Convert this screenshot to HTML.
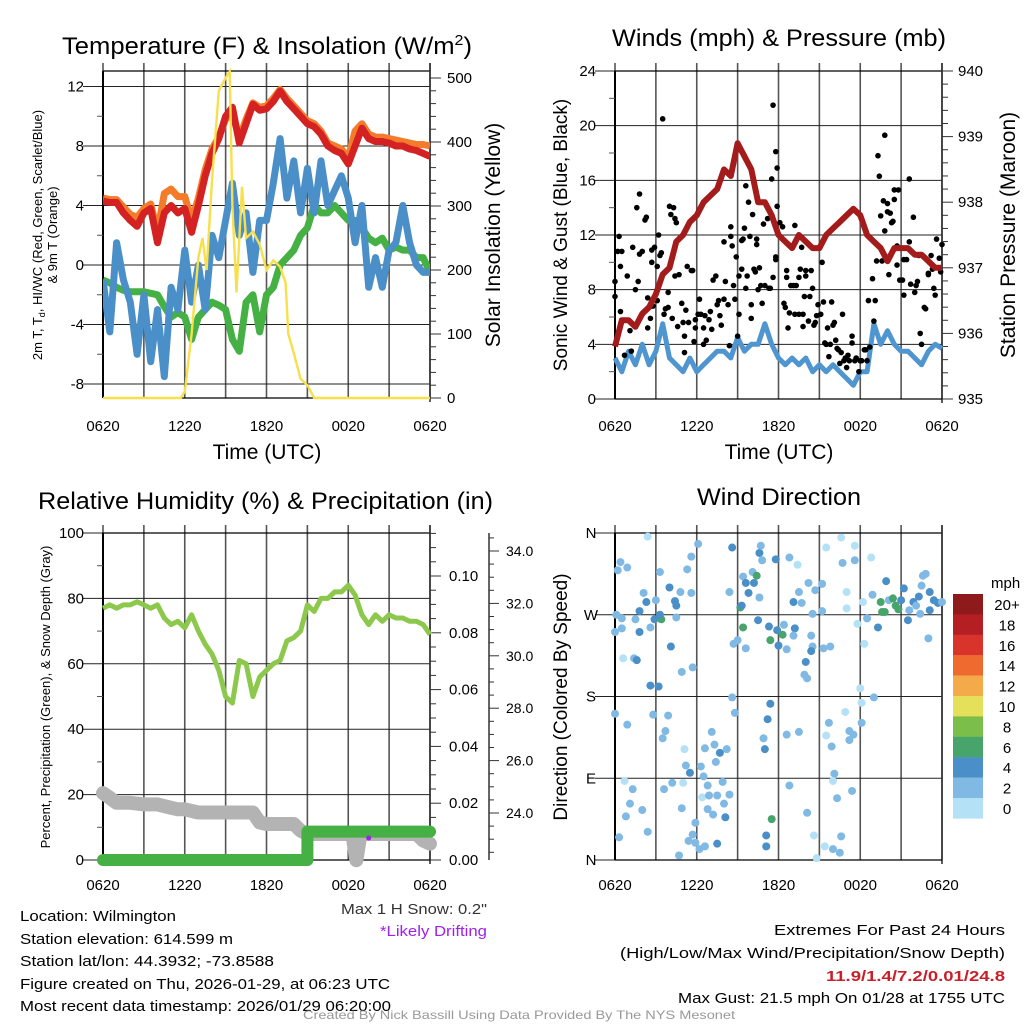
<!DOCTYPE html>
<html><head><meta charset="utf-8">
<style>
html,body{margin:0;padding:0;background:#fff;}
svg{display:block;font-family:"Liberation Sans",sans-serif;}
</style></head>
<body>
<svg id="fig" width="1024" height="1024" viewBox="0 0 1024 1024" xmlns="http://www.w3.org/2000/svg">
<rect width="1024" height="1024" fill="#fff"/>
<g id="p1"></g>
<g id="p2"></g>
<g id="p3"></g>
<g id="p4"></g>
<g font-size="15" fill="#000">
<text x="20" y="921" textLength="156" lengthAdjust="spacingAndGlyphs">Location: Wilmington</text>
<text x="20" y="944" textLength="213" lengthAdjust="spacingAndGlyphs">Station elevation: 614.599 m</text>
<text x="20" y="966" textLength="254" lengthAdjust="spacingAndGlyphs">Station lat/lon: 44.3932; -73.8588</text>
<text x="20" y="989" textLength="370" lengthAdjust="spacingAndGlyphs">Figure created on Thu, 2026-01-29, at 06:23 UTC</text>
<text x="20" y="1011" textLength="371" lengthAdjust="spacingAndGlyphs">Most recent data timestamp: 2026/01/29 06:20:00</text>
<text x="341" y="914" textLength="146" lengthAdjust="spacingAndGlyphs" fill="#333">Max 1 H Snow: 0.2"</text>
<text x="380" y="936" textLength="107" lengthAdjust="spacingAndGlyphs" fill="#a020f0">*Likely Drifting</text>
<text x="774" y="935" textLength="231" lengthAdjust="spacingAndGlyphs">Extremes For Past 24 Hours</text>
<text x="620" y="958" textLength="385" lengthAdjust="spacingAndGlyphs">(High/Low/Max Wind/Precipitation/Snow Depth)</text>
<text x="826" y="981" textLength="179" lengthAdjust="spacingAndGlyphs" fill="#c8202a" font-weight="bold">11.9/1.4/7.2/0.01/24.8</text>
<text x="678" y="1003" textLength="327" lengthAdjust="spacingAndGlyphs">Max Gust: 21.5 mph On 01/28 at 1755 UTC</text>
<text x="303" y="1019" font-size="12" fill="#999" textLength="432" lengthAdjust="spacingAndGlyphs">Created By Nick Bassill Using Data Provided By The NYS Mesonet</text>
</g>
</svg>
<script>
// ---------- data ----------
const timeLabels = ["0620","1220","1820","0020","0620"];
// half-hourly series (index*0.5 h after 0620)
const tempRed = [4.3,4.2,4.2,3.5,3.0,2.6,3.5,3.8,1.5,3.5,4.0,3.5,3.8,2.2,4.0,6.0,7.5,8.5,10.0,10.6,8.2,9.5,10.8,10.4,10.5,11.0,11.7,11.0,10.5,10.0,9.5,9.3,8.8,8.0,7.7,7.5,6.8,8.0,9.2,8.5,8.3,8.3,8.2,8.0,8.0,7.8,7.7,7.5,7.3];
const temp9m = [4.5,4.4,4.4,3.9,3.4,3.2,3.8,4.1,2.2,4.8,5.1,4.6,4.6,3.0,4.5,6.4,7.8,8.6,9.8,10.2,8.5,9.8,10.9,10.6,10.7,11.2,11.8,11.2,10.7,10.2,9.7,9.5,9.0,8.2,8.0,7.8,7.2,9.0,9.5,8.8,8.6,8.6,8.5,8.4,8.3,8.2,8.1,8.1,8.0];
const dewGreen = [-1.0,-1.2,-1.5,-1.7,-1.8,-1.8,-1.8,-1.9,-2.0,-2.8,-3.5,-3.2,-3.5,-5.0,-3.5,-3.0,-2.5,-2.7,-3.0,-5.0,-5.8,-2.5,-2.0,-4.5,-2.0,-1.5,0.0,0.5,1.0,2.0,2.5,4.0,3.5,3.5,4.0,3.5,3.0,3.0,2.5,1.8,1.5,1.8,1.0,1.2,1.0,1.0,0.5,0.5,-0.5];
const chillBlue = [-1.0,-4.5,1.5,-1.0,-2.5,-6.0,-2.0,-6.5,-3.0,-7.5,-1.5,-3.0,1.0,-2.5,0.0,-3.0,2.0,0.5,3.0,5.5,2.0,3.5,-0.5,3.0,3.0,5.5,8.5,4.5,7.0,3.5,6.5,3.5,7.0,4.0,5.0,6.0,4.5,1.5,4.0,-1.5,0.5,-1.5,1.0,1.5,4.0,1.5,0.0,-0.5,-0.5];
const solarHours = [0,5.7,6.0,6.5,7.0,7.3,7.6,8.0,8.5,9.0,9.3,9.5,9.8,10.2,10.5,11.0,11.5,12.0,12.5,13.0,13.4,13.6,14.0,14.5,15.0,15.5,24];
const solarVals  = [0,0,10,100,220,250,200,340,480,500,510,300,165,330,250,260,240,200,215,205,180,100,70,30,20,0,0];
// winds panel
const windBlue = [3.0,2.0,3.5,2.5,4.0,2.5,3.5,5.5,3.0,2.5,2.0,3.0,2.0,2.5,3.0,3.5,3.5,3.0,4.5,3.5,4.0,4.0,5.5,4.0,3.0,2.5,3.0,2.5,3.0,2.0,2.5,2.0,2.5,2.0,1.5,1.0,2.0,2.0,5.5,4.0,5.0,4.0,3.5,3.5,3.0,2.5,3.5,4.0,3.7];
const pressure = [935.8,936.2,936.2,936.1,936.3,936.4,936.6,936.9,937.0,937.4,937.5,937.7,937.8,938.0,938.1,938.2,938.5,938.4,938.9,938.7,938.5,938.0,938.0,937.8,937.5,937.4,937.3,937.5,937.4,937.3,937.3,937.5,937.6,937.7,937.8,937.9,937.8,937.5,937.4,937.3,937.1,937.3,937.3,937.3,937.2,937.2,937.1,937.0,937.0];
const gustHours = [0,0,0.2,0.3,0.4,0.5,0.4,0.7,0.9,1.1,1.2,1.3,1.5,1.6,1.7,1.8,1.8,2.0,2.0,2.2,2.3,2.4,2.4,2.6,2.7,2.8,2.7,2.7,2.9,3.1,3.1,3.2,3.3,3.4,3.5,3.6,3.7,3.9,3.9,4.0,4.1,4.2,4.3,4.4,4.4,4.5,4.6,4.7,4.9,5.0,5.1,5.1,5.2,5.3,5.4,5.6,5.7,5.8,5.9,5.9,6.1,6.2,6.3,6.5,6.5,6.6,6.7,6.9,7.0,7.1,7.2,7.4,7.5,7.6,7.7,7.8,8.0,8.0,8.1,8.3,8.4,8.5,8.5,8.6,8.7,8.8,8.9,9.0,9.1,9.1,9.3,9.3,9.4,9.5,9.6,9.6,9.7,9.8,9.9,10.0,10.0,10.1,10.2,10.3,10.4,10.4,10.5,10.6,10.7,10.8,10.9,11.0,11.2,11.3,11.4,11.5,11.6,11.6,11.8,11.8,11.8,11.9,11.9,12.1,12.3,12.4,12.5,12.6,12.6,12.7,12.8,12.9,13.1,13.2,13.2,13.3,13.5,13.5,13.6,13.7,13.8,13.8,13.9,14.0,14.0,14.2,14.3,14.4,14.5,14.6,14.7,14.8,14.9,15.1,15.2,15.3,15.4,15.5,15.6,15.7,15.8,15.9,16.0,16.1,16.2,16.3,16.4,16.5,16.6,16.7,16.8,16.9,17.0,17.1,17.2,17.4,17.4,17.6,17.7,17.9,18.0,18.1,18.3,18.4,18.5,18.6,18.7,18.9,19.0,19.1,19.2,19.3,19.4,19.5,19.6,19.7,19.8,19.8,20.0,20.0,20.1,20.2,20.3,20.4,20.5,20.5,20.7,20.7,20.8,20.9,21.1,21.2,21.2,21.4,21.6,21.6,21.7,21.9,22.0,22.1,22.2,22.3,22.4,22.5,22.7,22.8,23.0,23.0,23.2,23.3,23.4,23.5,23.6,23.8,23.9,24.0];
const gustVals = [8.6,7.5,10.8,11.9,9.7,10.8,6.4,3.2,9.0,5.0,3.5,11.1,8.0,14.0,8.6,10.6,15.0,10.8,6.2,13.1,13.3,7.4,5.2,5.9,6.8,6.8,10.0,10.9,11.1,7.2,9.7,12.0,10.5,10.7,20.5,6.2,6.6,6.7,7.8,14.1,13.5,5.9,14.0,9.0,13.2,12.9,5.3,9.1,7.0,5.6,3.4,4.6,6.5,9.7,5.6,9.4,9.4,4.2,5.8,5.2,6.2,7.3,6.2,4.0,5.2,6.1,4.3,5.8,6.4,5.1,8.7,9.0,6.9,7.2,6.1,5.4,11.5,7.3,8.6,6.9,3.9,11.9,12.6,11.2,8.3,7.3,10.4,4.6,9.0,6.2,11.6,9.5,11.7,12.5,15.6,8.1,9.0,14.4,11.9,6.9,5.9,13.5,9.5,9.3,11.7,11.3,8.0,9.6,8.3,7.0,12.8,8.3,13.2,8.1,8.1,16.1,21.5,8.9,10.4,18.1,10.2,16.9,14.1,12.9,12.6,7.0,6.7,9.4,8.9,5.2,6.3,8.3,8.3,6.2,12.7,8.3,6.2,8.9,9.5,11.1,5.3,6.2,7.5,9.0,9.4,5.7,7.5,9.4,8.1,5.4,5.6,6.1,6.9,6.2,10.0,7.1,4.1,4.0,5.2,3.1,4.0,7.1,5.4,5.6,4.3,3.7,3.6,2.6,3.4,6.2,2.8,3.0,2.3,3.2,2.8,4.6,4.1,2.8,3.0,2.0,2.8,2.8,3.6,3.6,2.8,7.2,3.8,8.8,5.7,7.2,10.1,17.8,16.3,13.4,10.1,14.5,12.3,19.3,14.3,13.7,9.1,13.6,12.9,13.0,15.3,14.6,9.8,11.2,15.3,8.7,8.7,10.2,7.6,10.2,16.1,11.5,8.4,13.3,7.8,8.3,8.6,10.5,4.8,4.0,6.7,6.6,9.2,9.1,10.5,9.5,8.1,7.6,11.7,10.3,9.3,11.3];
// humidity panel
const rhVals = [77,78,77,78,78,79,78,77,78,74,72,73,71,75,70,66,63,58,50,48,61,60,50,56,58,60,61,67,68,70,78,76,80,80,82,82,84,81,75,72,75,73,75,74,74,73,73,72,69];
const snowHours = [0,0.5,1,2,3,4,5,5.5,6,6.5,7,8,9,10,11,11.5,12,13,14,14.5,15,16,17,18,18.3,18.6,18.9,19.5,20,21,22,23,23.5,24];
const snowVals = [24.76,24.58,24.39,24.39,24.33,24.33,24.20,24.14,24.14,24.08,24.02,24.02,24.02,24.02,24.02,23.64,23.58,23.58,23.58,23.33,23.20,23.20,23.20,23.20,23.20,22.2,23.20,23.20,23.20,23.20,23.20,23.20,22.95,22.83];
const precipHours = [0,15,15,24];
const precipVals = [0,0,0.01,0.01];
// wind direction panel: hour, degrees, speed (mph)
const dirHours = [2.4,0.4,0.2,0.9,0.1,0.5,0.5,0,0.6,1.4,1.6,1.8,1.8,2.1,2.3,1.5,2.6,2.9,3.0,3.3,3.4,3.3,4.0,4.4,4.5,4.5,4.8,5.3,5.6,5.6,6.1,4.1,4.9,5.7,2.6,3.2,0,0.9,2.8,3.9,3.7,3.5,5.1,6.6,7.1,7.3,7.7,8.2,7.4,5.2,5.5,6.3,6.5,0.7,1.3,1.1,0.8,0.3,2.0,2.4,3.6,4.2,5.0,4.9,6.4,6.8,6.9,6.8,7.2,7.5,7.9,8.0,8.4,8.1,5.9,5.7,5.4,5.9,6.2,6.6,4.7,7.5,8.6,9.4,9.6,10.1,10.4,10.6,10.7,10.8,10.6,10.2,9.8,8.4,9.2,9.3,9.0,8.7,9.6,9.4,8.6,8.8,10.5,11.3,11.4,11.9,11.8,12.3,12.4,12.0,12.6,12.8,13.1,13.2,13.1,13.4,13.5,13.7,14.2,14.4,14.5,14.4,14.0,13.9,14.1,14.5,14.7,15.2,15.2,15.3,15.8,15.5,11.4,11.2,11.0,10.9,12.6,13.5,11.5,11.1,11.1,12.8,14.1,14.6,14.8,15.4,16.0,16.5,16.6,16.1,16.0,16.3,17.4,15.7,15.9,15.5,16.9,17.2,17.5,17.2,18.1,18.1,18.0,19.0,18.3,17.8,17.0,17.0,16.7,16.6,17.6,17.6,18.8,18.2,18.5,18.9,19.3,19.5,19.6,19.8,19.9,20.1,20.4,20.6,20.8,21.2,21.0,21.5,21.9,22.1,22.3,22.5,22.6,22.8,23.0,23.1,23.1,23.4,23.7,24.0,22.4,21.6];
const dirDegs = [356,328,319,322,270,266,255,251,222,222,220,251,274,294,284,265,256,265,286,317,265,270,300,285,280,267,295,320,334,294,348,235,207,212,192,191,161,149,160,159,142,134,122,123,141,127,118,122,108,104,96,103,92,87,78,62,48,25,55,31,78,85,85,57,69,82,71,56,50,71,86,62,72,47,41,28,21,19,12,15,5,18,344,312,305,317,313,338,346,330,289,305,294,295,278,280,242,238,233,256,179,162,264,257,242,253,331,248,259,236,232,333,284,255,247,325,295,283,305,247,235,230,218,204,200,271,297,304,274,233,235,344,172,155,122,134,138,141,45,27,15,82,52,27,2,15,12,8,26,95,87,68,76,151,125,137,163,142,138,132,151,173,189,179,238,260,277,295,327,355,346,330,333,284,266,292,256,284,273,273,307,286,288,280,276,299,286,264,284,280,290,302,313,315,244,275,295,286,283,284,271,275];
const dirSpeeds = [1,3,3,3,3,3,3,3,1,3,5,5,5,3,5,3,3,5,3,3,7,5,5,5,5,3,3,3,3,3,3,5,3,3,5,5,3,3,3,3,3,3,1,3,3,3,5,3,3,3,5,3,3,1,3,3,3,3,3,3,3,3,1,3,1,3,3,3,3,3,3,3,3,5,3,3,3,3,3,3,3,5,5,3,5,3,7,5,3,3,3,5,5,3,7,5,3,3,3,7,3,3,5,5,7,5,5,7,3,5,3,3,5,5,3,1,3,3,3,3,3,5,5,3,3,3,3,3,3,3,3,1,5,5,5,3,3,3,7,5,5,3,3,1,1,1,3,3,3,3,1,3,3,3,3,1,1,3,3,3,3,1,1,3,1,1,1,1,3,1,1,3,1,1,3,3,5,7,7,7,5,3,7,7,7,5,5,5,5,3,5,3,3,3,3,5,5,5,5,3,3,3];
const legendLabels = ["20+","18","16","14","12","10","8","6","4","2","0"];
const legendColors = ["#8e1a1c","#b51f24","#d8342b","#ee6a2e","#f5aa4a","#e5e05a","#7bbf4a","#47a56c","#4a8fc7","#80b9e3","#b4e1f6"];

// ---------- helpers ----------
const NS="http://www.w3.org/2000/svg";
function mk(parent,tag,attrs,text){const e=document.createElementNS(NS,tag);for(const k in attrs)e.setAttribute(k,attrs[k]);if(text!==undefined)e.textContent=text;parent.appendChild(e);return e;}
function linScale(d0,d1,r0,r1){return v=>r0+(v-d0)*(r1-r0)/(d1-d0);}
function halfHours(n){const a=[];for(let i=0;i<n;i++)a.push(i*0.5);return a;}
function pathFrom(xs,ys,xf,yf){return xs.map((x,i)=>(i?"L":"M")+xf(x).toFixed(1)+","+yf(ys[i]).toFixed(1)).join("");}
const X0=103,X1=430,X20=615,X21=942;

function frame(g,x0,x1,yTop,yBot,hLines,yf){
  for(let h=0;h<=24;h+=3){const x=x0+(x1-x0)*h/24;
    const l=mk(g,"line",{x1:x,x2:x,y1:yTop-8,y2:yBot,stroke:"#555","stroke-width":1.6});
    
    }
  hLines.forEach(v=>{const y=yf(v);
    const l=mk(g,"line",{x1:x0-20,x2:x1,y1:y,y2:y,stroke:"#222","stroke-width":1});
    
    });
  mk(g,"line",{x1:x0,x2:x1,y1:yTop,y2:yTop,stroke:"#000","stroke-width":1.2});
  mk(g,"line",{x1:x0,x2:x0,y1:yTop,y2:yBot,stroke:"#000","stroke-width":2});
  mk(g,"line",{x1:x1,x2:x1,y1:yTop-8,y2:yBot+4,stroke:"#333","stroke-width":1.6});
  mk(g,"line",{x1:x0,x2:x1,y1:yBot,y2:yBot,stroke:"#000","stroke-width":1.2});
}
function timeTicks(g,x0,x1,y){
  timeLabels.forEach((s,i)=>{const t=mk(g,"text",{x:x0+(x1-x0)*i/4,y:y,"font-size":15,"text-anchor":"middle"},s);
    
    });
}
function vtext(g,x,y,s,size,name,fill){const t=mk(g,"text",{x:0,y:0,"font-size":size,"text-anchor":"middle",transform:`translate(${x},${y}) rotate(-90)`,fill:fill||"#000"},s);
  
  return t;}

// ---------- Panel 1 ----------
(function(){
  const g=document.getElementById("p1");
  const xf=linScale(0,24,X0,X1), yf=linScale(0,-8,265,384), sf=linScale(0,500,398,78);
  const t=mk(g,"text",{x:62,y:54,"font-size":24,textLength:410,lengthAdjust:"spacingAndGlyphs"});
  
  
  t.innerHTML='Temperature (F) &amp; Insolation (W/m<tspan dy="-9" font-size="15">2</tspan><tspan dy="9">)</tspan>';
  frame(g,X0,X1,71,398,[12,8,4,0,-4,-8],yf);
  [10,6,2,-2,-6].forEach(v=>mk(g,"line",{x1:X0-6,x2:X0,y1:yf(v),y2:yf(v),stroke:"#555"}));
  [12,8,4,0,-4,-8].forEach(v=>{const e=mk(g,"text",{x:84,y:yf(v)+5,"font-size":15,"text-anchor":"end"},String(v));
    
    });
  for(let v=0;v<=500;v+=20){const y=sf(v);mk(g,"line",{x1:X1,x2:X1+(v%100?6:11),y1:y,y2:y,stroke:"#333"});}
  [0,100,200,300,400,500].forEach(v=>{const e=mk(g,"text",{x:447,y:sf(v)+5,"font-size":15},String(v));
    
    });
  timeTicks(g,X0,X1,431);
  const xt=mk(g,"text",{x:267,y:459,"font-size":21,"text-anchor":"middle"},"Time (UTC)");
  
  
  vtext(g,500,235,"Solar Insolation (Yellow)",21,"right-axis-title");
  const lt=vtext(g,42,235,"",13,"left-axis-title");
  lt.innerHTML='2m T, T<tspan font-size="9" dy="3">d</tspan><tspan dy="-3">, HI/WC (Red, Green, Scarlet/Blue)</tspan>';
  vtext(g,57,235,"& 9m T (Orange)",13,"left-axis-title-line2");
  const hh=halfHours(tempRed.length);
  const series=[[temp9m,"#f47b2a",7,"orange-9m-temp-line"],[tempRed,"#d42222",7,"red-2m-temp-line"],[dewGreen,"#45b043",7,"green-dewpoint-line"],[chillBlue,"#4a8fc8",7,"blue-windchill-line"]];
  const clip=mk(g,"clipPath",{id:"c1"});mk(clip,"rect",{x:X0,y:71,width:X1-X0,height:327});
  series.forEach(s=>{const p=mk(g,"path",{d:pathFrom(hh,s[0],xf,yf),fill:"none",stroke:s[1],"stroke-width":s[2],"stroke-linejoin":"round","clip-path":"url(#c1)"});
    
    });
  const sp=mk(g,"path",{d:pathFrom(solarHours,solarVals,xf,sf),fill:"none",stroke:"#f7e04b","stroke-width":2.4});
  
  
})();

// ---------- Panel 2 ----------
(function(){
  const g=document.getElementById("p2");
  const xf=linScale(0,24,X20,X21), yf=linScale(0,24,399,71), pf=linScale(935,940,399,71);
  const t=mk(g,"text",{x:612,y:46,"font-size":24,textLength:334,lengthAdjust:"spacingAndGlyphs"},"Winds (mph) & Pressure (mb)");
  
  
  frame(g,X20,X21,71,399,[24,20,16,12,8,4,0],yf);
  [22,18,14,10,6,2].forEach(v=>mk(g,"line",{x1:X20-6,x2:X20,y1:yf(v),y2:yf(v),stroke:"#555"}));
  [24,20,16,12,8,4,0].forEach(v=>{const e=mk(g,"text",{x:596,y:yf(v)+5,"font-size":15,"text-anchor":"end"},String(v));
    
    });
  for(let v=935;v<=940.001;v+=0.2){const y=pf(v);const major=Math.abs(v-Math.round(v))<0.01;mk(g,"line",{x1:X21,x2:X21+(major?11:6),y1:y,y2:y,stroke:"#333"});}
  [935,936,937,938,939,940].forEach(v=>{const e=mk(g,"text",{x:958,y:pf(v)+5,"font-size":15},String(v));
    
    });
  timeTicks(g,X20,X21,431);
  const xt=mk(g,"text",{x:779,y:459,"font-size":21,"text-anchor":"middle"},"Time (UTC)");
  
  
  vtext(g,567,235,"Sonic Wind & Gust (Blue, Black)",19,"left-axis-title");
  vtext(g,1015,235,"Station Pressure (Maroon)",21,"right-axis-title");
  const hh=halfHours(windBlue.length);
  const wb=mk(g,"path",{d:pathFrom(hh,windBlue,xf,yf),fill:"none",stroke:"#4f95cf","stroke-width":5,"stroke-linejoin":"round"});
  
  
  gustHours.forEach((h,i)=>{const c=mk(g,"circle",{cx:xf(h),cy:yf(gustVals[i]),r:2.8,fill:"#000"});
    
    });
  const pp=mk(g,"path",{d:pathFrom(hh,pressure,xf,pf),fill:"none",stroke:"#a31b1b","stroke-width":6,"stroke-linejoin":"round"});
  
  
})();

// ---------- Panel 3 ----------
(function(){
  const g=document.getElementById("p3");
  const xf=linScale(0,24,X0,X1), yf=linScale(0,100,860,533), rf=linScale(0,0.10,860,576), nf=linScale(24,34,813,551);
  const t=mk(g,"text",{x:38,y:509,"font-size":24,textLength:455,lengthAdjust:"spacingAndGlyphs"},"Relative Humidity (%) & Precipitation (in)");
  
  
  frame(g,X0,X1,533,860,[100,80,60,40,20,0],yf);
  [90,70,50,30,10].forEach(v=>mk(g,"line",{x1:X0-6,x2:X0,y1:yf(v),y2:yf(v),stroke:"#555"}));
  [100,80,60,40,20,0].forEach(v=>{const e=mk(g,"text",{x:84,y:yf(v)+5,"font-size":15,"text-anchor":"end"},String(v));
    
    });
  for(let v=0;v<=0.1151;v+=0.005){const y=rf(v);const major=Math.abs(v*50-Math.round(v*50))<0.01;mk(g,"line",{x1:X1,x2:X1+(major?11:6),y1:y,y2:y,stroke:"#333"});}
  ["0.00","0.02","0.04","0.06","0.08","0.10"].forEach(s=>{const e=mk(g,"text",{x:449,y:rf(+s)+5,"font-size":15},s);
    
    });
  mk(g,"line",{x1:489,x2:489,y1:533,y2:860,stroke:"#333","stroke-width":1.5});
  for(let v=22.5;v<=34.6;v+=0.5){const y=nf(v);if(y<533||y>860)continue;const major=Math.abs(v-2*Math.round(v/2))<0.01;mk(g,"line",{x1:489,x2:489+(major?10:5),y1:y,y2:y,stroke:"#333"});}
  ["24.0","26.0","28.0","30.0","32.0","34.0"].forEach(s=>{const e=mk(g,"text",{x:506,y:nf(+s)+5,"font-size":14},s);
    
    });
  timeTicks(g,X0,X1,890);
  vtext(g,50,697,"Percent, Precipitation (Green), & Snow Depth (Gray)",13,"left-axis-title");
  const sn=mk(g,"path",{d:pathFrom(snowHours,snowVals,xf,nf),fill:"none",stroke:"#b3b3b3","stroke-width":14,"stroke-linejoin":"round","stroke-linecap":"round"});
  
  
  const pr=mk(g,"path",{d:pathFrom(precipHours,precipVals,xf,rf),fill:"none",stroke:"#45b043","stroke-width":12,"stroke-linecap":"round","stroke-linejoin":"round"});
  
  
  const dot=mk(g,"circle",{cx:xf(19.5),cy:nf(23.2)+4,r:2.5,fill:"#a020f0"});
  
  
  const hh=halfHours(rhVals.length);
  const rh=mk(g,"path",{d:pathFrom(hh,rhVals,xf,yf),fill:"none",stroke:"#8cc84b","stroke-width":5,"stroke-linejoin":"round"});
  
  
})();

// ---------- Panel 4 ----------
(function(){
  const g=document.getElementById("p4");
  const xf=linScale(0,24,X20,X21), yf=linScale(0,360,860,533);
  const t=mk(g,"text",{x:697,y:505,"font-size":24,textLength:164,lengthAdjust:"spacingAndGlyphs"},"Wind Direction");
  
  
  frame(g,X20,X21,533,860,[0,90,180,270,360],yf);
  [["N",0],["E",90],["S",180],["W",270],["N",360]].forEach(a=>{const e=mk(g,"text",{x:591,y:yf(a[1])+5,"font-size":15,"text-anchor":"middle"},a[0]);
    
    });
  timeTicks(g,X20,X21,890);
  vtext(g,567,697,"Direction (Colored By Speed)",19,"left-axis-title");
  function colorFor(s){const idx=Math.min(10,Math.floor(s/2));return legendColors[10-idx];}
  dirHours.forEach((h,i)=>{const c=mk(g,"circle",{cx:xf(h),cy:yf(dirDegs[i]),r:4,fill:colorFor(dirSpeeds[i])});
    
    });
  const lg=mk(g,"g",{});
  
  
  const mph=mk(lg,"text",{x:991,y:588,"font-size":15},"mph");
  
  
  legendLabels.forEach((s,i)=>{const y=594+i*20.4;
    const r=mk(lg,"rect",{x:953,y:y,width:30,height:20.6,fill:legendColors[i]});
    
    
    const e=mk(lg,"text",{x:1007,y:y+16,"font-size":15,"text-anchor":"middle"},s);
    
    });
})();
</script>
</body></html>
